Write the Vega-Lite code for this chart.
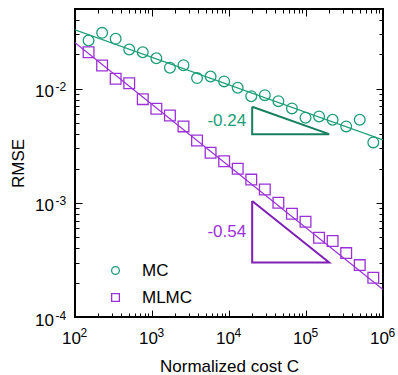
{
  "$schema": "https://vega.github.io/schema/vega-lite/v6.json",
  "autosize": "none",
  "width": 308,
  "height": 308,
  "padding": {"left": 75, "top": 9, "right": 15, "bottom": 58},
  "background": "white",
  "config": {
    "view": {"stroke": "black", "strokeWidth": 2},
    "font": "Liberation Sans",
    "axis": {
      "grid": false, "domain": false, "tickColor": "black", "tickWidth": 1,
      "labelFont": "Liberation Sans", "labelFontSize": 17, "labelColor": "black",
      "titleFont": "Liberation Sans", "titleFontSize": 17, "titleFontWeight": "normal", "titleColor": "black",
      "labelOverlap": false, "labelFlush": false, "labelBound": false
    },
    "legend": {
      "labelFont": "Liberation Sans", "labelFontSize": 17, "labelColor": "black"
    }
  },
  "resolve": {"axis": {"x": "independent", "y": "independent"}},
  "layer": [
    {
      "data": {"values": [
        {"series": "MC", "C": 150, "rmse": 0.0265},
        {"series": "MC", "C": 225, "rmse": 0.0309},
        {"series": "MC", "C": 337.5, "rmse": 0.0274},
        {"series": "MC", "C": 506, "rmse": 0.0221},
        {"series": "MC", "C": 759, "rmse": 0.0209},
        {"series": "MC", "C": 1139, "rmse": 0.0185},
        {"series": "MC", "C": 1709, "rmse": 0.0153},
        {"series": "MC", "C": 2563, "rmse": 0.0161},
        {"series": "MC", "C": 3844, "rmse": 0.0124},
        {"series": "MC", "C": 5767, "rmse": 0.0128},
        {"series": "MC", "C": 8650, "rmse": 0.0116},
        {"series": "MC", "C": 12975, "rmse": 0.0102},
        {"series": "MC", "C": 19462, "rmse": 0.00861},
        {"series": "MC", "C": 29193, "rmse": 0.00879},
        {"series": "MC", "C": 43789, "rmse": 0.00779},
        {"series": "MC", "C": 65684, "rmse": 0.00673},
        {"series": "MC", "C": 98526, "rmse": 0.00558},
        {"series": "MC", "C": 147789, "rmse": 0.00572},
        {"series": "MC", "C": 221684, "rmse": 0.00535},
        {"series": "MC", "C": 332526, "rmse": 0.00468},
        {"series": "MC", "C": 498789, "rmse": 0.00535},
        {"series": "MC", "C": 748183, "rmse": 0.00339},
        {"series": "MLMC", "C": 150, "rmse": 0.0209},
        {"series": "MLMC", "C": 225, "rmse": 0.0160},
        {"series": "MLMC", "C": 337.5, "rmse": 0.01225},
        {"series": "MLMC", "C": 506, "rmse": 0.01119},
        {"series": "MLMC", "C": 759, "rmse": 0.00811},
        {"series": "MLMC", "C": 1139, "rmse": 0.00668},
        {"series": "MLMC", "C": 1709, "rmse": 0.00584},
        {"series": "MLMC", "C": 2563, "rmse": 0.00468},
        {"series": "MLMC", "C": 3844, "rmse": 0.00352},
        {"series": "MLMC", "C": 5767, "rmse": 0.00275},
        {"series": "MLMC", "C": 8650, "rmse": 0.00232},
        {"series": "MLMC", "C": 12975, "rmse": 0.00199},
        {"series": "MLMC", "C": 19462, "rmse": 0.00160},
        {"series": "MLMC", "C": 29193, "rmse": 0.00131},
        {"series": "MLMC", "C": 43789, "rmse": 0.001004},
        {"series": "MLMC", "C": 65684, "rmse": 0.000804},
        {"series": "MLMC", "C": 98526, "rmse": 0.000684},
        {"series": "MLMC", "C": 147789, "rmse": 0.000495},
        {"series": "MLMC", "C": 221684, "rmse": 0.000463},
        {"series": "MLMC", "C": 332526, "rmse": 0.000363},
        {"series": "MLMC", "C": 498789, "rmse": 0.000285},
        {"series": "MLMC", "C": 748183, "rmse": 0.000221}
      ]},
      "mark": {"type": "point", "filled": false, "size": 115, "strokeWidth": 1.3, "opacity": 1},
      "encoding": {
        "x": {"field": "C", "type": "quantitative",
          "scale": {"type": "log", "domain": [100, 1000000], "nice": false},
          "axis": {"orient": "bottom", "title": "Normalized cost C", "titlePadding": 9,
            "values": [100,200,300,400,500,600,700,800,900,1000,2000,3000,4000,5000,6000,7000,8000,9000,10000,20000,30000,40000,50000,60000,70000,80000,90000,100000,200000,300000,400000,500000,600000,700000,800000,900000,1000000],
            "tickSize": {"condition": {"test": "indexof([100,1000,10000,100000,1000000], datum.value) >= 0", "value": -7}, "value": -4},
            "labelPadding": 20, "labelOffset": -4,
            "labelExpr": "indexof([100,1000,10000,100000,1000000], datum.value) >= 0 ? '10' : ''"}},
        "y": {"field": "rmse", "type": "quantitative",
          "scale": {"type": "log", "domain": [0.0001, 0.05], "nice": false},
          "axis": {"orient": "left", "title": "RMSE", "titlePadding": 7.5,
            "values": [0.0001,0.0002,0.0003,0.0004,0.0005,0.0006,0.0007,0.0008,0.0009,0.001,0.002,0.003,0.004,0.005,0.006,0.007,0.008,0.009,0.01,0.02,0.03,0.04,0.05],
            "tickSize": {"condition": {"test": "indexof([0.0001,0.001,0.01], datum.value) >= 0", "value": -7}, "value": -4},
            "labelPadding": 28.5, "labelOffset": 3,
            "labelExpr": "indexof([0.0001,0.001,0.01], datum.value) >= 0 ? '10' : ''"}},
        "color": {"field": "series", "type": "nominal",
          "scale": {"domain": ["MC", "MLMC"], "range": ["#1b9e77", "#9b30d9"]},
          "legend": {"title": null, "orient": "none", "legendX": 32, "legendY": 253, "padding": 0,
            "symbolSize": 60, "symbolStrokeWidth": 1.3, "labelOffset": 18, "rowPadding": 9, "symbolFillColor": "transparent"}},
        "shape": {"field": "series", "type": "nominal",
          "scale": {"domain": ["MC", "MLMC"], "range": ["circle", "square"]},
          "legend": {"title": null, "orient": "none", "legendX": 32, "legendY": 253, "padding": 0,
            "symbolSize": 60, "symbolStrokeWidth": 1.3, "labelOffset": 18, "rowPadding": 9, "symbolFillColor": "transparent"}}
      }
    },
    {
      "data": {"values": [
        {"series": "MC", "C": 100, "rmse": 0.0329},
        {"series": "MC", "C": 1000000, "rmse": 0.00357},
        {"series": "MLMC", "C": 100, "rmse": 0.0253},
        {"series": "MLMC", "C": 1000000, "rmse": 0.000174}
      ]},
      "mark": {"type": "line", "strokeWidth": 1.2, "clip": true},
      "encoding": {
        "x": {"field": "C", "type": "quantitative",
          "axis": {"orient": "top", "title": null, "labels": false,
            "values": [100,200,300,400,500,600,700,800,900,1000,2000,3000,4000,5000,6000,7000,8000,9000,10000,20000,30000,40000,50000,60000,70000,80000,90000,100000,200000,300000,400000,500000,600000,700000,800000,900000,1000000],
            "tickSize": {"condition": {"test": "indexof([100,1000,10000,100000,1000000], datum.value) >= 0", "value": -7}, "value": -4}}},
        "y": {"field": "rmse", "type": "quantitative",
          "axis": {"orient": "right", "title": null, "labels": false,
            "values": [0.0001,0.0002,0.0003,0.0004,0.0005,0.0006,0.0007,0.0008,0.0009,0.001,0.002,0.003,0.004,0.005,0.006,0.007,0.008,0.009,0.01,0.02,0.03,0.04,0.05],
            "tickSize": {"condition": {"test": "indexof([0.0001,0.001,0.01], datum.value) >= 0", "value": -7}, "value": -4}}},
        "color": {"field": "series", "type": "nominal", "legend": null}
      }
    },
    {
      "data": {"values": [
        {"series": "MC", "C": 20000, "rmse": 0.00695, "ord": 1},
        {"series": "MC", "C": 20000, "rmse": 0.004, "ord": 2},
        {"series": "MC", "C": 200000, "rmse": 0.004, "ord": 3},
        {"series": "MC", "C": 20000, "rmse": 0.00695, "ord": 4}
      ]},
      "mark": {"type": "line", "strokeWidth": 2, "color": "#17805f", "strokeJoin": "miter"},
      "encoding": {
        "x": {"field": "C", "type": "quantitative",
          "axis": {"orient": "bottom", "title": null, "values": [100,1000,10000,100000,1000000],
            "ticks": true, "tickSize": 0, "tickOpacity": 0, "labelFontSize": 12,
            "labelAlign": "left", "labelPadding": 10.4, "labelOffset": 5,
            "labelExpr": "datum.value == 100 ? '2' : datum.value == 1000 ? '3' : datum.value == 10000 ? '4' : datum.value == 100000 ? '5' : '6'"}},
        "y": {"field": "rmse", "type": "quantitative",
          "axis": {"orient": "left", "title": null, "values": [0.0001,0.001,0.01],
            "ticks": true, "tickSize": 0, "tickOpacity": 0, "labelFontSize": 12,
            "labelAlign": "right", "labelPadding": 9.3, "labelOffset": -2,
            "labelExpr": "datum.value == 0.0001 ? '-4' : datum.value == 0.001 ? '-3' : '-2'"}},
        "order": {"field": "ord", "type": "quantitative"}
      }
    },
    {
      "data": {"values": [
        {"series": "MLMC", "C": 20000, "rmse": 0.00104, "ord": 1},
        {"series": "MLMC", "C": 20000, "rmse": 0.0003, "ord": 2},
        {"series": "MLMC", "C": 200000, "rmse": 0.0003, "ord": 3},
        {"series": "MLMC", "C": 20000, "rmse": 0.00104, "ord": 4}
      ]},
      "mark": {"type": "line", "strokeWidth": 2, "color": "#7f1fb3", "strokeJoin": "miter"},
      "encoding": {
        "x": {"field": "C", "type": "quantitative", "axis": null},
        "y": {"field": "rmse", "type": "quantitative", "axis": null},
        "order": {"field": "ord", "type": "quantitative"}
      }
    },
    {
      "data": {"values": [
        {"label": "-0.24", "C": 20000, "rmse": 0.00527}
      ]},
      "mark": {"type": "text", "align": "right", "baseline": "middle", "dx": -6, "fontSize": 17, "font": "Liberation Sans", "color": "#1b9e77"},
      "encoding": {
        "x": {"field": "C", "type": "quantitative", "axis": null},
        "y": {"field": "rmse", "type": "quantitative", "axis": null},
        "text": {"field": "label"}
      }
    },
    {
      "data": {"values": [
        {"label": "-0.54", "C": 20000, "rmse": 0.000558}
      ]},
      "mark": {"type": "text", "align": "right", "baseline": "middle", "dx": -6, "fontSize": 17, "font": "Liberation Sans", "color": "#9b30d9"},
      "encoding": {
        "x": {"field": "C", "type": "quantitative", "axis": null},
        "y": {"field": "rmse", "type": "quantitative", "axis": null},
        "text": {"field": "label"}
      }
    }
  ]
}
